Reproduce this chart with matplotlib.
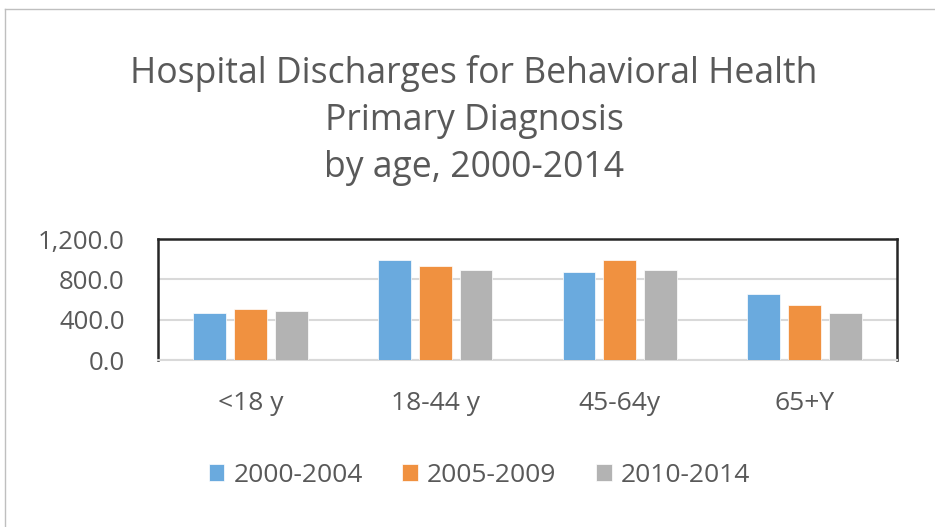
import numpy as np
import matplotlib
matplotlib.use("Agg")
import matplotlib.pyplot as plt
from matplotlib.lines import Line2D

# data
categories = ["<18 y", "18-44 y", "45-64y", "65+Y"]
series_names = ["2000-2004", "2005-2009", "2010-2014"]
v_2000_2004 = [469, 993, 872, 652]
v_2005_2009 = [508, 934, 993, 548]
v_2010_2014 = [489, 895, 895, 469]
yticks = [0, 400, 800, 1200]
title_lines = ["Hospital Discharges for Behavioral Health", "Primary Diagnosis", "by age, 2000-2014"]

colors = ["#6aaade", "#f09140", "#b3b3b3"]
txt = "#595959"

plt.rcParams['font.family'] = ['Open Sans', 'DejaVu Sans']

W, H = 935, 527
fig = plt.figure(figsize=(W / 100, H / 100), dpi=100)
ax = fig.add_axes([158 / W, 1 - 360 / H, (897 - 158) / W, (360 - 239) / H])

x = np.arange(len(categories))
w = 0.178
step = 0.221
for i, (vals, name) in enumerate(zip([v_2000_2004, v_2005_2009, v_2010_2014], series_names)):
    ax.bar(x + (i - 1) * step, vals, width=w, color=colors[i], label=name,
           edgecolor="white", linewidth=0.5, zorder=3)

ax.set_xlim(-0.5, len(categories) - 0.5)
ax.set_ylim(0, 1200)
ax.set_yticks(yticks)
ax.set_yticklabels([f"{v:,.1f}" for v in yticks])
ax.set_xticks(x)
ax.set_xticklabels(categories)
ax.tick_params(axis="both", length=0, colors=txt)
ax.tick_params(axis="y", pad=24, labelsize=18.5)
ax.tick_params(axis="x", pad=22, labelsize=19)
ax.yaxis.grid(True, color="#d9d9d9", linewidth=1.5, zorder=0)

for s in ["top", "left", "right"]:
    ax.spines[s].set_color("#262626")
    ax.spines[s].set_linewidth(1.8)
ax.spines["bottom"].set_color("#d9d9d9")
ax.spines["bottom"].set_linewidth(1.5)

# title, one text per line
for line, base in zip(title_lines, [83, 130, 177]):
    fig.text(0.5 * (132 + 816) / W, 1 - base / H, line, ha="center", va="baseline",
             fontsize=25.6, color=txt)

handles, labels = ax.get_legend_handles_labels()
fig.legend(handles, labels, loc="center", bbox_to_anchor=(479.5 / W, 1 - 475 / H), ncol=3,
           frameon=False, fontsize=19, labelcolor=txt, handlelength=0.6, handleheight=0.6,
           handletextpad=0.34, columnspacing=1.5)

# outer chart border
fig.add_artist(Line2D([5 / W, 1], [1 - 9 / H, 1 - 9 / H], color="#bfbfbf", linewidth=1,
                      transform=fig.transFigure))
fig.add_artist(Line2D([5 / W, 5 / W], [0, 1 - 9 / H], color="#bfbfbf", linewidth=1,
                      transform=fig.transFigure))

fig.savefig("out.png", dpi=100)
